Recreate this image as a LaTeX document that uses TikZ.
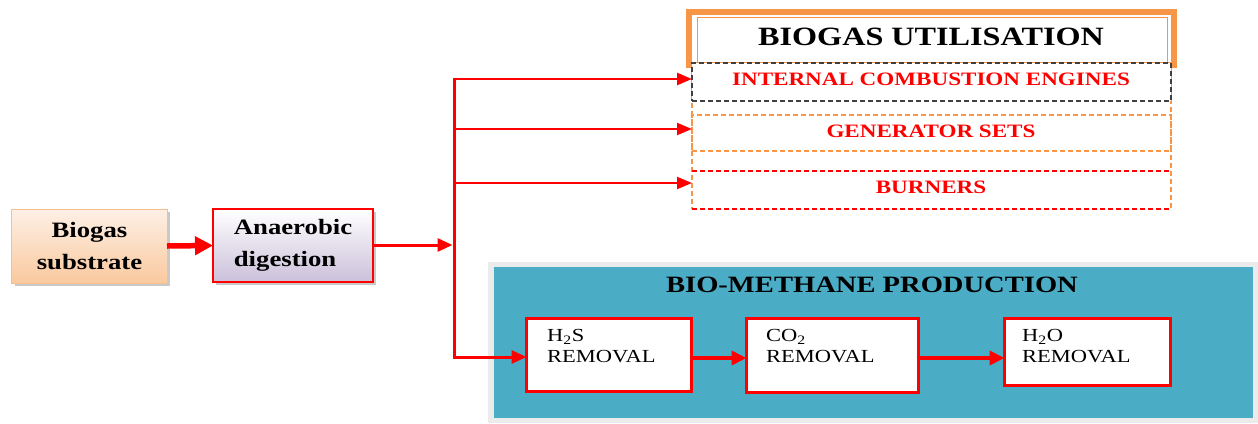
\documentclass[tikz,border=0pt]{standalone}
\usepackage{fontspec}
\setmainfont{Liberation Serif}[FakeStretch=1.22]
\usetikzlibrary{arrows.meta,shadows}
\definecolor{myred}{HTML}{FF0000}
\definecolor{orng}{HTML}{F79646}
\definecolor{peachtop}{HTML}{FDF0E6}
\definecolor{peachbot}{HTML}{FAC99E}
\definecolor{peachline}{HTML}{F9BE8E}
\definecolor{lavbot}{HTML}{CBC0DA}
\definecolor{tealc}{HTML}{4BACC6}
\definecolor{panelgray}{HTML}{EBEBEB}
\definecolor{darkdash}{HTML}{404040}
\begin{document}
\begin{tikzpicture}[x=1bp,y=-1bp,
  box/.style={inner sep=0pt, outer sep=0pt},
  shad/.style={drop shadow={shadow xshift=3bp, shadow yshift=-3bp, opacity=0.35, fill=black!60}},
  subbox/.style={box, shad, draw=peachline, line width=1bp, top color=peachtop, bottom color=peachbot,
    font=\fontsize{22}{32}\selectfont\bfseries, align=center},
  digbox/.style={box, shad, draw=myred, line width=1.4bp, top color=white, bottom color=lavbot,
    font=\fontsize{22}{32}\selectfont\bfseries, align=left},
  remb/.style={box, draw=myred, line width=3bp, fill=white},
  remt/.style={inner sep=0pt, anchor=north west, align=left, font=\fontsize{18.5}{21}\selectfont},
  utilt/.style={inner sep=0pt, text=myred, font=\fontsize{19}{22}\selectfont\bfseries},
  bigarrow/.style={draw=myred, line width=5.5bp, -{Triangle[length=18bp, width=18bp]}},
  midarrow/.style={draw=myred, line width=3bp, -{Triangle[length=15bp, width=13bp]}},
  remarrow/.style={draw=myred, line width=4bp, -{Triangle[length=15bp, width=14bp]}},
  thinarrow/.style={draw=myred, line width=2bp, -{Triangle[length=15bp, width=12bp]}},
  odash/.style={draw=orng, line width=1.4bp, dash pattern=on 5bp off 3bp},
  rdash/.style={draw=myred, line width=1.4bp, dash pattern=on 5bp off 3bp},
]
\useasboundingbox (0,0) rectangle (1258,423);
\fill[white] (0,0) rectangle (1258,423);

% ---- bio-methane panel
\fill[panelgray] (488,262) rectangle (1258,423);
\node[box, fill=tealc, minimum width=759bp, minimum height=151bp, anchor=north west] (panel) at (494,267) {};
\node[inner sep=0pt, font=\fontsize{23.5}{26}\selectfont\bfseries] (pt) at (872,285) {BIO-METHANE PRODUCTION};

% ---- removal boxes
\node[remb, minimum width=165bp, minimum height=73bp, anchor=north west] (h2s) at (526.5,318.5) {};
\node[remb, minimum width=172bp, minimum height=74bp, anchor=north west] (co2) at (746.5,318.5) {};
\node[remb, minimum width=166bp, minimum height=67bp, anchor=north west] (h2o) at (1004.5,318.5) {};
\node[remt] (h2st) at (547,329) {H\textsubscript{2}S\\REMOVAL};
\node[remt] (co2t) at (766,329) {CO\textsubscript{2}\\REMOVAL};
\node[remt] (h2ot) at (1022,329) {H\textsubscript{2}O\\REMOVAL};
\coordinate (r1) at (691,358);
\coordinate (r2) at (918,358);
\draw[remarrow] (r1) -- (r1 -| co2.west);
\draw[remarrow] (r2) -- (r2 -| h2o.west);

% ---- left boxes
\node[subbox, minimum width=155bp, minimum height=74bp] (sub) at (89.5,246) {Biogas\\substrate};
\node[digbox, minimum width=160bp, minimum height=73bp] (dig) at (293,245.5) {Anaerobic\\digestion};
\draw[bigarrow] (sub.east) -- (dig.west);

% ---- junction
\coordinate (jm) at (454,245);
\coordinate (jt) at (454,79);
\coordinate (j2) at (454,129);
\coordinate (j3) at (454,183);
\coordinate (jb) at (454,357);
\draw[midarrow] (dig.east |- jm) -- ([xshift=-1.5bp]jm);
\draw[draw=myred, line width=3bp] ([yshift=1.25bp]jt) -- ([yshift=-1.5bp]jb);

% ---- biogas utilisation column
\node[box, odash, minimum width=479bp, minimum height=146bp, anchor=north west] (col) at (692,63) {};
\node[box, draw=orng, line width=6bp, minimum width=485bp, minimum height=53bp, anchor=north west] (hdr) at (689,12) {};
\node[box, draw=orng, line width=1.3bp, fill=white, minimum width=470bp, minimum height=45bp, anchor=north west] (hdri) at (697.5,17.5) {};
\node[inner sep=0pt, font=\fontsize{26.5}{30}\selectfont\bfseries] (ht) at (931,37) {BIOGAS UTILISATION};
\node[box, fill=white, draw=darkdash, line width=1.3bp, dash pattern=on 5bp off 3bp, minimum width=479bp, minimum height=38bp, anchor=north west] (ice) at (692,63) {};
\node[box, odash, minimum width=479bp, minimum height=36bp, anchor=north west] (gen) at (692,115) {};
\node[box, minimum width=479bp, minimum height=38bp, anchor=north west] (bur) at (692,171) {};
\draw[rdash] (bur.north west) -- (bur.north east);
\draw[rdash] (bur.south west) -- (bur.south east);
\node[utilt] (icet) at (931,79) {INTERNAL COMBUSTION ENGINES};
\node[utilt] (gent) at (931,131) {GENERATOR SETS};
\node[utilt] (burt) at (931,187) {BURNERS};

% ---- branches
\draw[thinarrow, line width=2.5bp] (jt) -- (jt -| ice.west);
\draw[thinarrow] (j2) -- (j2 -| gen.west);
\draw[thinarrow] (j3) -- (j3 -| bur.west);
\draw[midarrow] ([xshift=-1.5bp]jb) -- (jb -| h2s.west);
\end{tikzpicture}
\end{document}
